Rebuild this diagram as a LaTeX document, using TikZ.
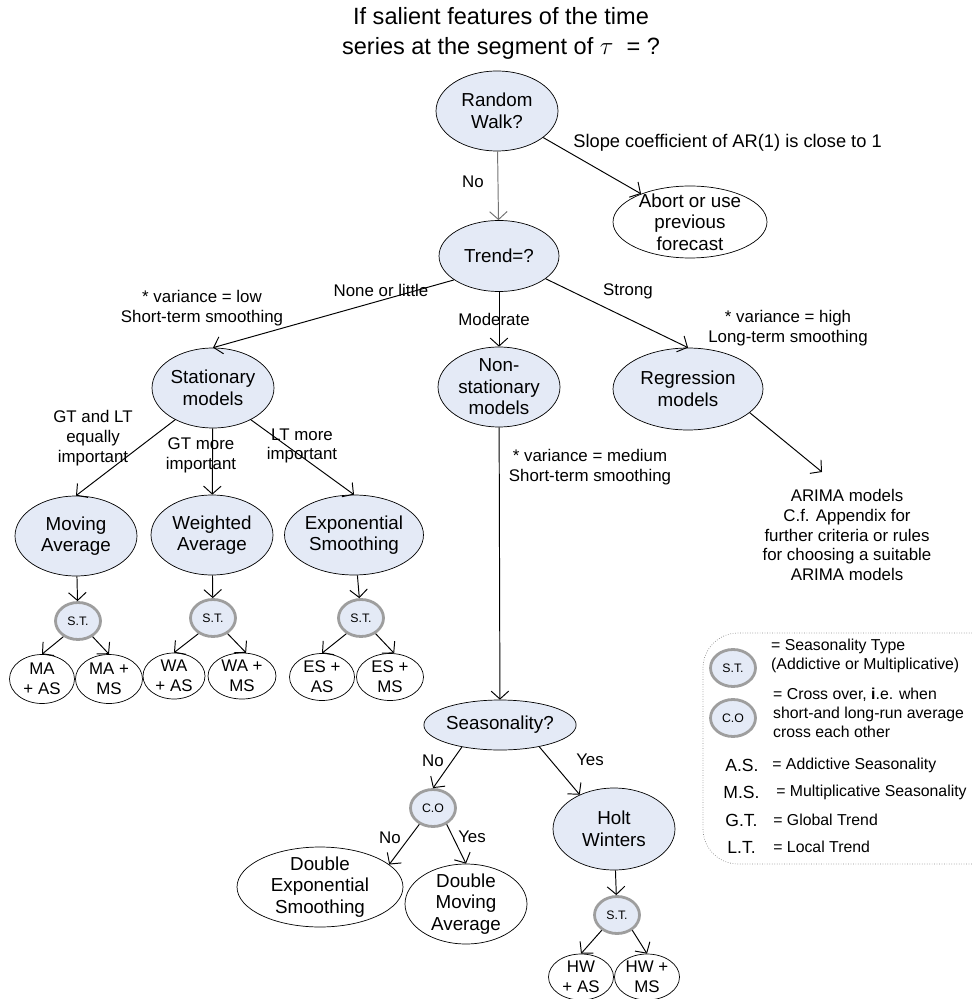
\documentclass[tikz,border=0pt]{standalone}
\usepackage{fontspec}
\setmainfont{Liberation Sans}
\usetikzlibrary{shapes.geometric, arrows.meta}
\definecolor{nodeBlue}{RGB}{228, 234, 246}
\definecolor{stGray}{RGB}{158, 158, 158}
\newcommand{\titlefont}{\fontsize{13.4}{17}\selectfont}
\newcommand{\nodefont}{\fontsize{10.7}{12.3}\selectfont}
\newcommand{\lblfont}{\fontsize{9.6}{11.3}\selectfont}
\newcommand{\leaffont}{\fontsize{9.6}{11.3}\selectfont}
\newcommand{\stfont}{\fontsize{7}{8}\selectfont}
\newcommand{\legfont}{\fontsize{9}{11}\selectfont}
\newcommand{\abbrfont}{\fontsize{10}{12}\selectfont}

\begin{document}
\begin{tikzpicture}[x=0.02cm, y=-0.02cm,
    model/.style={ellipse, draw, fill=nodeBlue, inner xsep=0pt, inner ysep=-3pt,
      align=center, font=\nodefont, minimum width=2.44cm, minimum height=1.6cm},
    outcome/.style={model, fill=white},
    leaf/.style={ellipse, draw, inner xsep=0pt, inner ysep=-2pt, align=center,
      font=\leaffont, minimum width=1.3cm, minimum height=0.98cm},
    stype/.style={ellipse, draw=stGray, line width=1.6pt, fill=nodeBlue, inner sep=0pt,
      font=\stfont, minimum width=0.9cm, minimum height=0.74cm},
    lbl/.style={align=center, font=\lblfont},
    arr/.style={-{Straight Barb[length=4.5pt,width=10pt]}, line width=0.55pt}]
  \useasboundingbox (0,0) rectangle (972,999);

  \node[align=center, font=\titlefont] (title) at (501,33)
    {If salient features of the time\\series at the segment of $\tau$~ = ?};

  % top of the tree
  \node[model] (rw) at (497,111) {Random\\Walk?};
  \node[outcome, minimum width=3.08cm, minimum height=1.44cm, inner ysep=-4pt] (abort) at (690,222)
    {Abort or use\\previous\\forecast};
  \node[model, minimum width=2.4cm, minimum height=1.42cm] (trend) at (499,256) {Trend=?};
  \node[model] (stat) at (213,388) {Stationary\\models};
  \node[model] (nonstat) at (499,387) {Non-\\stationary\\models};
  \node[model, minimum width=3.0cm, minimum height=1.64cm] (regr) at (688,389) {Regression\\models};

  % stationary branch
  \node[model] (ma) at (76,536) {Moving\\Average};
  \node[model] (wa) at (212,535) {Weighted\\Average};
  \node[model, minimum width=2.68cm] (es) at (354,535) {Exponential\\Smoothing};
  \node[stype] (st1) at (78,621) {S.T.};
  \node[stype] (st2) at (213,618) {S.T.};
  \node[stype] (st3) at (361,618) {S.T.};
  \node[leaf] (maas) at (42,679) {MA\\+ AS};
  \node[leaf, minimum width=1.34cm] (mams) at (109,679) {MA +\\MS};
  \node[leaf, minimum width=1.24cm, minimum height=0.92cm] (waas) at (174,676) {WA\\+ AS};
  \node[leaf, minimum width=1.36cm, minimum height=0.92cm] (wams) at (242,676) {WA +\\MS};
  \node[leaf, minimum height=0.94cm] (esas) at (322,677) {ES +\\AS};
  \node[leaf, minimum width=1.34cm, minimum height=0.94cm] (esms) at (390,677) {ES +\\MS};

  % non-stationary branch
  \node[model, minimum width=2.96cm, minimum height=1.0cm] (seas) at (500,725) {Seasonality?};
  \node[stype] (co) at (433,808) {C.O};
  \node[model, minimum height=1.64cm] (hw) at (614,829) {Holt\\Winters};
  \node[outcome, minimum width=3.32cm] (des) at (320,887) {Double\\Exponential\\Smoothing};
  \node[outcome] (dma) at (466,904) {Double\\Moving\\Average};
  \node[stype] (st4) at (617,915) {S.T.};
  \node[leaf, minimum height=0.92cm] (hwas) at (581,977) {HW\\+ AS};
  \node[leaf, minimum height=0.92cm] (hwms) at (647,977) {HW +\\MS};

  \node[lbl] (arima) at (847,535) {ARIMA models\\C.f. Appendix for\\further criteria or rules\\for choosing a suitable\\ARIMA models};
  \coordinate (arimaIn) at (822,472);

  % connectors
  \draw[arr, draw=black!55] (rw) -- (trend);
  \draw[arr] (rw) -- (abort);
  \draw[arr] (trend.208) -- (stat.north);
  \draw[arr] (trend) -- (nonstat);
  \draw[arr] (trend.-26) -- (regr.north);
  \draw[arr] (regr.-21) -- (arimaIn);
  \draw[arr] (stat.220) -- (ma.north);
  \draw[arr] (stat) -- (wa);
  \draw[arr] (stat.-40) -- (es.north);
  \draw[arr] (ma) -- (st1);
  \draw[arr] (wa) -- (st2);
  \draw[arr] (es) -- (st3);
  \draw[arr] (st1.227) -- (maas.north);
  \draw[arr] (st1.-47) -- (mams.north);
  \draw[arr] (st2.227) -- (waas.north);
  \draw[arr] (st2.-47) -- (wams.80);
  \draw[arr] (st3.227) -- (esas.north);
  \draw[arr] (st3.-47) -- (esms.80);
  \draw[arr] (nonstat) -- (seas);
  \draw[arr] (seas.210) -- (co.north);
  \draw[arr] (seas.-29) -- (hw.135);
  \draw[arr] (co.230) -- (des.18);
  \draw[arr] (co.-50) -- (dma.north);
  \draw[arr] (hw) -- (st4);
  \draw[arr] (st4.225) -- (hwas.north);
  \draw[arr] (st4.-45) -- (hwms.north);

  % edge labels
  \node[lbl, anchor=west, font=\fontsize{10.4}{12}\selectfont, inner xsep=0pt] (slope) at (573,143)
    {Slope coefficient of AR(1) is close to 1};
  \node[lbl] (noRw) at (473,182) {No};
  \node[lbl] (noneLittle) at (381,290) {None or little};
  \node[lbl] (moderate) at (494,319) {Moderate};
  \node[lbl] (strong) at (628,291) {Strong};
  \node[lbl] (varLow) at (202,308) {* variance = low\\Short-term smoothing};
  \node[lbl] (varHigh) at (788,328) {* variance = high\\Long-term smoothing};
  \node[lbl] (varMed) at (590,467) {* variance = medium\\Short-term smoothing};
  \node[lbl] (gtlt) at (93,438) {GT and LT\\equally\\important};
  \node[lbl] (gtMore) at (201,455) {GT more\\important};
  \node[lbl] (ltMore) at (302,446) {LT more\\important};
  \node[lbl] (noSeas) at (433,761) {No};
  \node[lbl] (yesSeas) at (590,760) {Yes};
  \node[lbl] (noCo) at (390,838) {No};
  \node[lbl] (yesCo) at (472,837) {Yes};

  % legend
  \draw[black!45, densely dotted, rounded corners=20] (972,633) -- (703,633) -- (703,864) -- (972,864);
  \node[stype] (legSt) at (733,668) {S.T.};
  \node[stype] (legCo) at (733,718) {C.O};
  \node[align=left, anchor=west, font=\legfont] (legStTxt) at (765,656)
    {= Seasonality Type\\(Addictive or Multiplicative)};
  \node[align=left, anchor=west, font=\legfont] (legCoTxt) at (767,713)
    {= Cross over, \textbf{i}.e. when\\short-and long-run average\\cross each other};
  \foreach \legAbbr/\legText/\ya/\xa/\xb in {A.S./Addictive Seasonality/765/725/772,
      M.S./Multiplicative Seasonality/792/723/776,
      G.T./Global Trend/820/725/773, L.T./Local Trend/847/727/773} {
    \node[anchor=west, font=\abbrfont, inner sep=0pt] at (\xa,\ya) {\legAbbr};
    \node[anchor=west, font=\legfont, inner sep=0pt] at (\xb,\ya) {= \legText};
  }
\end{tikzpicture}
\end{document}
